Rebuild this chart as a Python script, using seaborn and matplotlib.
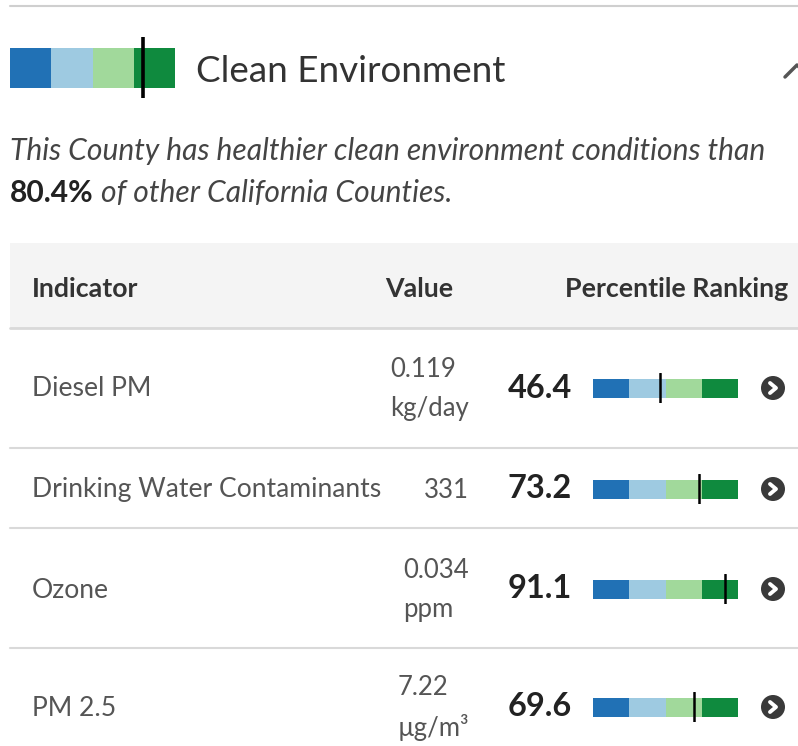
import seaborn as sns
import matplotlib.pyplot as plt
from matplotlib.patches import Circle, Rectangle

# donnees
section_title = "Clean Environment"
section_pct = 80.4
indicators = ["Diesel PM", "Drinking Water Contaminants", "Ozone", "PM 2.5"]
values = ["0.119", "331", "0.034", "7.22"]
units = ["kg/day", "", "ppm", "µg/m³"]
percentiles = [46.4, 73.2, 91.1, 69.6]
quartile_edges = [25, 50, 75, 100]
quartile_colors = ["#2171b5", "#9ecae1", "#a1d99b", "#0f8a3e"]
columns = ["Indicator", "Value", "Percentile Ranking"]

sns.set_theme(style="white")
plt.rcParams["font.family"] = ["Lato", "DejaVu Sans"]

W, H = 798, 746
fig = plt.figure(figsize=(W / 100, H / 100), dpi=100)
ax = fig.add_axes([0, 0, 1, 1])
ax.set_xlim(0, W)
ax.set_ylim(H, 0)
ax.axis("off")


def mini_bar(x0, y_top, width, height, pct, bar_frac, lw):
    # axe pour une barre a quartiles + marqueur du percentile
    bax = fig.add_axes([x0 / W, 1 - (y_top + height) / H, width / W, height / H])
    for edge, col in reversed(list(zip(quartile_edges, quartile_colors))):
        sns.barplot(x=[edge], y=["q"], color=col, width=1, saturation=1,
                    linewidth=0, orient="h", ax=bax)
    half = 0.5 / bar_frac
    bax.set_ylim(half, -half)
    bax.set_xlim(0, 100)
    bax.axvline(pct, color="black", lw=lw)
    bax.axis("off")
    return bax


# ligne du haut
ax.plot([10, W], [6, 6], color="#cfcfcf", lw=1.5)

# en-tete de section
mini_bar(10, 37, 165, 61, section_pct, 40 / 61, 2.6)
ax.text(196, 72, section_title, fontsize=26.6, color="#333333", va="center")
ax.plot([785, 797, 809], [77, 65, 77], color="#555555", lw=2.5)

ax.text(10, 151, "This County has healthier clean environment conditions than",
        fontsize=21.6, style="italic", color="#444444", va="center")
pct_txt = ax.text(10, 193, f"{section_pct}%", fontsize=21.6, weight="bold",
                  color="#222222", va="center")
fig.canvas.draw()
bb = pct_txt.get_window_extent(fig.canvas.get_renderer())
ax.text(bb.x1 + 7, 193, "of other California Counties.", fontsize=21.6, style="italic",
        color="#444444", va="center")

# entete du tableau
ax.add_patch(Rectangle((10, 243), W - 10, 85, color="#f4f4f4", lw=0))
ax.plot([10, W], [328, 328], color="#d9d9d9", lw=2)
ax.text(32, 289, columns[0], fontsize=19.3, weight="bold", color="#333333", va="center")
ax.text(453, 289, columns[1], fontsize=19.3, weight="bold", color="#333333", va="center", ha="right")
ax.text(788, 289, columns[2], fontsize=19.3, weight="bold", color="#333333", va="center", ha="right")

# lignes du tableau
row_centers = [388, 489, 589, 707]
row_bottoms = [448, 528, 648]
for yb in row_bottoms:
    ax.plot([10, W], [yb, yb], color="#d9d9d9", lw=1.5)

for name, val, unit, pct, yc in zip(indicators, values, units, percentiles, row_centers):
    ax.text(32, yc + 1, name, fontsize=19.1, color="#555555", va="center")
    cell = f"{val}\n{unit}" if unit else val
    ax.text(469, yc + 1, cell, fontsize=18.5, color="#555555", va="center", ha="right",
            multialignment="left", linespacing=1.68)
    ax.text(572, yc, f"{pct}", fontsize=23.4, weight="bold", color="#222222", va="center", ha="right")
    mini_bar(593, yc - 15, 145, 30, pct, 19 / 30, 1.8)
    ax.add_patch(Circle((773, yc), 12, color="#3a3a3a", lw=0))
    ax.plot([770, 776, 770], [yc - 5, yc, yc + 5], color="white", lw=2.8)

fig.savefig("out.png", dpi=100)
